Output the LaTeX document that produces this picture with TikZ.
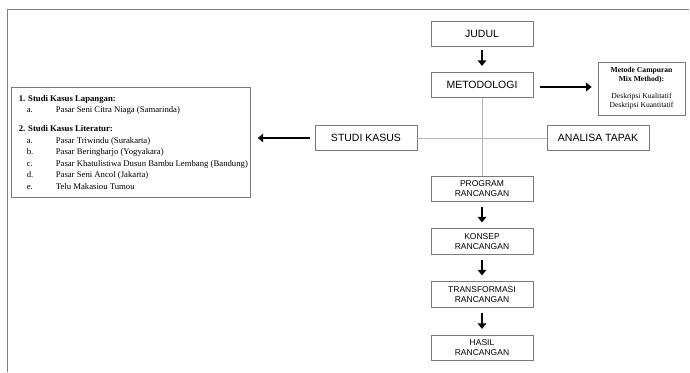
\documentclass[tikz,border=0pt]{standalone}
\usepackage{fontspec}
\setmainfont{Liberation Serif}
\newfontfamily\arialf{Liberation Sans}
\usetikzlibrary{arrows.meta}
\definecolor{framegray}{HTML}{808080}
\definecolor{boxgray}{HTML}{7A7A7A}
\definecolor{linegray}{HTML}{B4B4B4}
\newcommand{\itm}[2]{\makebox[13pt][l]{}\makebox[29pt][l]{#1}#2}
\begin{document}
\begin{tikzpicture}[x=1pt,y=-1pt,
  flowbox/.style={draw=boxgray, line width=0.7pt, minimum width=102pt, minimum height=25.5pt, inner sep=0pt, align=center},
  bigfont/.style={font=\arialf\fontsize{10.5}{12}\selectfont},
  smallfont/.style={font=\arialf\fontsize{8.5}{10}\selectfont},
  thickarrow/.style={line width=2.6pt, -{Triangle[width=8.5pt,length=5.5pt]}},
  greyline/.style={draw=linegray, line width=0.9pt},
  serifbox/.style={draw=boxgray, line width=0.7pt, inner sep=0pt, align=left}
]
\useasboundingbox (0,0) rectangle (690,372);
% frame
\coordinate (fbl) at (7,372);
\coordinate (ftl) at (7,9);
\coordinate (ftr) at (689,9);
\draw[framegray, line width=0.9pt] (fbl) -- (ftl) -- (ftr);

% main column
\node[flowbox, bigfont] (judul) at (482,34) {JUDUL};
\node[flowbox, bigfont] (meto) at (482,85) {METODOLOGI};
\node[flowbox, bigfont] (studi) at (366,138) {STUDI KASUS};
\node[flowbox, bigfont] (analisa) at (598,138) {ANALISA TAPAK};
\node[flowbox, smallfont] (program) at (482,189) {PROGRAM\\RANCANGAN};
\node[flowbox, smallfont] (konsep) at (482,241.5) {KONSEP\\RANCANGAN};
\node[flowbox, smallfont] (transf) at (482,294.5) {TRANSFORMASI\\RANCANGAN};
\node[flowbox, smallfont] (hasil) at (482,348) {HASIL\\RANCANGAN};

% metode box
\node[draw=boxgray, line width=0.7pt, minimum width=87pt, minimum height=53pt, inner sep=0pt, align=center,
      font=\fontsize{7.6}{9}\selectfont] (metode) at (641.5,88.5)
  {\textbf{Metode Campuran}\\\textbf{Mix Method):}\\[8pt]Deskripsi Kualitatif\\Deskripsi Kuantitatif};

% left box
\node[serifbox, minimum width=239pt, minimum height=110pt, anchor=north west,
      font=\fontsize{8.7}{11.6}\selectfont] (kasus) at (11,87)
  {\hspace{5pt}\textbf{1. Studi Kasus Lapangan:}\\
   \itm{a.}{Pasar Seni Citra Niaga (Samarinda)}\\[7pt]
   \hspace{5pt}\textbf{2. Studi Kasus Literatur:}\\
   \itm{a.}{Pasar Triwindu (Surakarta)}\\
   \itm{b.}{Pasar Beringharjo (Yogyakara)}\\
   \itm{c.}{Pasar Khatulistiwa Dusun Bambu Lembang (Bandung)}\\
   \itm{d.}{Pasar Seni Ancol (Jakarta)}\\
   \itm{e.}{Telu Makasiou Tumou}};

% grey connectors
\draw[greyline] (meto.south) -- (program.north);
\draw[greyline] (studi.east) -- (analisa.west);

% thick arrows
\draw[thickarrow] ([yshift=-3pt]judul.south) -- ([yshift=6pt]meto.north);
\draw[thickarrow] ([yshift=-5pt]program.south) -- ([yshift=6pt]konsep.north);
\draw[thickarrow] ([yshift=-5pt]konsep.south) -- ([yshift=6pt]transf.north);
\draw[thickarrow] ([yshift=-5pt]transf.south) -- ([yshift=6pt]hasil.north);
\coordinate (ma) at ([xshift=7pt,yshift=-2pt]meto.east);
\coordinate (mb) at ([xshift=-6pt]ma -| metode.west);
\draw[thickarrow] (ma) -- (mb);
\coordinate (sa) at ([xshift=-5pt]studi.west);
\coordinate (sb) at ([xshift=7pt]sa -| kasus.east);
\draw[thickarrow] (sa) -- (sb);
\end{tikzpicture}
\end{document}
